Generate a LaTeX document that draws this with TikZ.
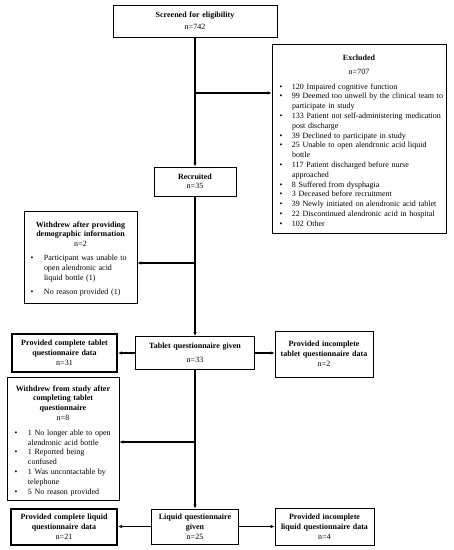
\documentclass[tikz,border=0pt]{standalone}
\usepackage{fontspec}
\setmainfont{Liberation Serif}
\usetikzlibrary{arrows.meta}
\newcommand\ctr[1]{\par{\centering #1\par}}
\newcommand\bitem[3]{\par{\raggedright\noindent\hangindent=#2\hangafter=1 \hbox to #2{\hskip #1\textbullet\hfil}#3\par}}
\begin{document}
\begin{tikzpicture}[x=1pt,y=-1pt,
  box/.style={draw, line width=0.8pt, inner xsep=0.5pt, inner ysep=1pt,
    font=\fontsize{8}{9.8}\selectfont},
  cbox/.style={box, align=center},
  tbox/.style={cbox, line width=2pt},
  conn/.style={line width=1.1pt, -{Latex[length=4pt,width=3.5pt]}}]
\useasboundingbox (0,0) rectangle (454,550);

\node[cbox, text width=163pt, minimum height=32pt] (screened) at (195,21)
  {\textbf{Screened for eligibility}\\[2.5pt]n=742};

\node[box, text width=173pt, minimum height=189pt] (excluded) at (359,138.5) {%
  \ctr{\textbf{Excluded}}\vspace{4.5pt}
  \ctr{n=707}\vspace{4.5pt}
  \bitem{7.1pt}{19.5pt}{120 Impaired cognitive function}
  \bitem{7.1pt}{19.5pt}{99 Deemed too unwell by the clinical team to\newline participate in study}
  \bitem{7.1pt}{19.5pt}{133 Patient not self-administering medication\newline post discharge}
  \bitem{7.1pt}{19.5pt}{39 Declined to participate in study}
  \bitem{7.1pt}{19.5pt}{25 Unable to open alendronic acid liquid\newline bottle}
  \bitem{7.1pt}{19.5pt}{117 Patient discharged before nurse\newline approached}
  \bitem{7.1pt}{19.5pt}{8 Suffered from dysphagia}
  \bitem{7.1pt}{19.5pt}{3 Deceased before recruitment}
  \bitem{7.1pt}{19.5pt}{39 Newly initiated on alendronic acid tablet}
  \bitem{7.1pt}{19.5pt}{22 Discontinued alendronic acid in hospital}
  \bitem{7.1pt}{19.5pt}{102 Other}};

\node[cbox, text width=81pt, minimum height=29pt, font=\fontsize{8}{9}\selectfont] (recruited) at (195,181.5)
  {\textbf{Recruited}\\n=35};

\node[box, text width=112pt, minimum height=92pt] (withdrewA) at (80.5,257) {%
  \ctr{\textbf{Withdrew after providing}\\\textbf{demographic information}\\n=2}\vspace{4pt}
  \bitem{6.1pt}{19.5pt}{Participant was unable to\newline open alendronic acid\newline liquid bottle (1)}\vspace{5pt}
  \bitem{6.1pt}{19.5pt}{No reason provided (1)}};

\node[tbox, text width=104pt, minimum height=38pt] (tabcomp) at (64.5,353)
  {\textbf{Provided complete tablet}\\\textbf{questionnaire data}\\n=31};

\node[cbox, text width=118pt, minimum height=33pt] (tablet) at (195,353)
  {\textbf{Tablet questionnaire given}\\[4pt]n=33};

\node[cbox, text width=97pt, minimum height=46pt] (tabinc) at (324,354)
  {\textbf{Provided incomplete}\\\textbf{tablet questionnaire data}\\n=2};

\node[box, text width=111pt, minimum height=123pt] (withdrewB) at (63,438.5) {%
  \ctr{\textbf{Withdrew from study after}\\\textbf{completing tablet}\\\textbf{questionnaire}\\n=8}\vspace{5pt}
  \bitem{7.1pt}{20.5pt}{1 No longer able to open\newline alendronic acid bottle}
  \bitem{7.1pt}{20.5pt}{1 Reported being\newline confused}
  \bitem{7.1pt}{20.5pt}{1 Was uncontactable by\newline telephone}
  \bitem{7.1pt}{20.5pt}{5 No reason provided}};

\node[tbox, text width=105pt, minimum height=36pt] (liqcomp) at (64,526.5)
  {\textbf{Provided complete liquid}\\\textbf{questionnaire data}\\n=21};

\node[cbox, text width=86pt, minimum height=35pt] (liquid) at (195,526.5)
  {\textbf{Liquid questionnaire}\\\textbf{given}\\n=25};

\node[cbox, text width=98pt, minimum height=37pt] (liqinc) at (324.5,526.5)
  {\textbf{Provided incomplete}\\\textbf{liquid questionnaire data}\\n=4};

\coordinate (j1) at (195,93);
\coordinate (j2) at (195,263);
\coordinate (j3) at (195,442);

\draw[conn] (screened) -- (recruited);
\draw[conn] (j1) -- (excluded.west |- j1);
\draw[conn] (recruited) -- (tablet);
\draw[conn] (j2) -- (withdrewA.east |- j2);
\draw[conn] (tablet) -- (tabcomp);
\draw[conn] (tablet.east) -- (tabinc.west |- tablet.east);
\draw[conn] (tablet) -- (liquid);
\draw[conn] (j3) -- (withdrewB.east |- j3);
\draw[conn] (liquid) -- (liqcomp);
\draw[conn] (liquid) -- (liqinc);
\end{tikzpicture}
\end{document}
